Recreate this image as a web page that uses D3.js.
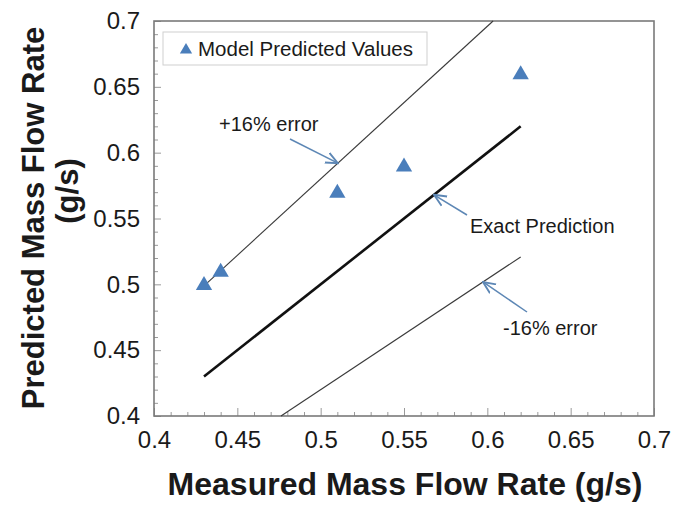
<!DOCTYPE html>
<html>
<head>
<meta charset="utf-8">
<script src="https://cdn.jsdelivr.net/npm/d3@7"></script>
<style>
  html, body { margin: 0; padding: 0; background: #fff; }
  svg { display: block; font-family: "Liberation Sans", Arial, sans-serif; }
</style>
</head>
<body>
<svg id="chart" width="675" height="506"></svg>
<script>
// Measured vs. model-predicted mass flow rate (g/s)
const measured = [0.43, 0.44, 0.51, 0.55, 0.62];
const predicted = [0.50, 0.51, 0.57, 0.59, 0.66];

// Reference lines: exact prediction and ±16% error bands
const exactLine = [[0.43, 0.43], [0.62, 0.62]];
const plusLine = [[0.43, 0.43 * 1.16], [0.7 / 1.16, 0.7]];
const minusLine = [[0.4 / 0.84, 0.4], [0.62, 0.62 * 0.84]];

const xTicks = [0.4, 0.45, 0.5, 0.55, 0.6, 0.65, 0.7];
const yTicks = [0.4, 0.45, 0.5, 0.55, 0.6, 0.65, 0.7];

const svg = d3.select("#chart");
const plot = { left: 154, right: 654, top: 21, bottom: 416 };

const x = d3.scaleLinear().domain([0.4, 0.7]).range([plot.left, plot.right]);
const y = d3.scaleLinear().domain([0.4, 0.7]).range([plot.bottom, plot.top]);

const minor = d3.range(0, 31).map(i => +(0.4 + i * 0.01).toFixed(2));

// Inner minor/major ticks along the bottom
const xAxis = svg.append("g")
  .attr("transform", `translate(0,${plot.bottom})`)
  .call(d3.axisBottom(x).tickValues(minor).tickSizeInner(-4).tickSizeOuter(0).tickFormat(""));
xAxis.select(".domain").remove();
xAxis.selectAll(".tick line").attr("stroke", "#9a9a9a")
  .attr("y2", d => (Math.round(d * 100) % 5 === 0) ? -8 : -4);

const yAxis = svg.append("g")
  .attr("transform", `translate(${plot.left},0)`)
  .call(d3.axisLeft(y).tickValues(minor).tickSizeInner(-4).tickSizeOuter(0).tickFormat(""));
yAxis.select(".domain").remove();
yAxis.selectAll(".tick line").attr("stroke", "#9a9a9a")
  .attr("x2", d => (Math.round(d * 100) % 5 === 0) ? 7 : 4);

// Tick labels
const xLab = svg.append("g")
  .attr("transform", `translate(0,${plot.bottom})`)
  .call(d3.axisBottom(x).tickValues(xTicks).tickSize(0).tickPadding(15).tickFormat(d => String(d)));
xLab.select(".domain").remove();
xLab.selectAll("text").attr("font-size", 24).attr("fill", "#1a1a1a")
  .attr("font-family", "Liberation Sans, Arial, sans-serif");

const yLab = svg.append("g")
  .attr("transform", `translate(${plot.left},0)`)
  .call(d3.axisLeft(y).tickValues(yTicks).tickSize(0).tickPadding(14).tickFormat(d => String(d)));
yLab.select(".domain").remove();
yLab.selectAll("text").attr("font-size", 24).attr("fill", "#1a1a1a")
  .attr("font-family", "Liberation Sans, Arial, sans-serif");

// Plot frame
svg.append("rect")
  .attr("x", plot.left).attr("y", plot.top)
  .attr("width", plot.right - plot.left).attr("height", plot.bottom - plot.top)
  .attr("fill", "none").attr("stroke", "#7a7a7a").attr("stroke-width", 1.6);

const line = d3.line().x(d => x(d[0])).y(d => y(d[1]));

svg.append("path").datum(plusLine).attr("d", line)
  .attr("fill", "none").attr("stroke", "#3a3a3a").attr("stroke-width", 1.1);
svg.append("path").datum(minusLine).attr("d", line)
  .attr("fill", "none").attr("stroke", "#3a3a3a").attr("stroke-width", 1.1);
svg.append("path").datum(exactLine).attr("d", line)
  .attr("fill", "none").attr("stroke", "#111").attr("stroke-width", 2.6);

// Data markers
const tri = d3.symbol().type(d3.symbolTriangle).size(115);
svg.append("g").selectAll("path")
  .data(measured.map((m, i) => [m, predicted[i]]))
  .join("path")
  .attr("d", tri)
  .attr("transform", d => `translate(${x(d[0])},${y(d[1]) + 1})`)
  .attr("fill", "#4a7ebb");

// Annotation arrows
const defs = svg.append("defs");
defs.append("marker")
  .attr("id", "arrow").attr("viewBox", "0 0 10 10")
  .attr("refX", 9).attr("refY", 5)
  .attr("markerWidth", 9).attr("markerHeight", 9)
  .attr("orient", "auto-start-reverse")
  .append("path").attr("d", "M0,1 L9,5 L0,9")
  .attr("fill", "none").attr("stroke", "#5d87b5").attr("stroke-width", 1.4);

function annotate(label, tx, ty, from, toPt) {
  svg.append("line")
    .attr("x1", from[0]).attr("y1", from[1])
    .attr("x2", x(toPt[0])).attr("y2", y(toPt[1]))
    .attr("stroke", "#5d87b5").attr("stroke-width", 1.5)
    .attr("marker-end", "url(#arrow)");
  svg.append("text").attr("x", tx).attr("y", ty)
    .attr("font-size", 20).attr("fill", "#1a1a1a").text(label);
}

annotate("+16% error", 219, 131, [290, 139], [0.5103, 0.5920]);
annotate("Exact Prediction", 470, 233, [467, 215], [0.5680, 0.5680]);
annotate("-16% error", 503, 335, [527, 312], [0.5974, 0.5018]);

// Legend
const lg = svg.append("g");
lg.append("rect").attr("x", 163).attr("y", 32).attr("width", 264).attr("height", 33)
  .attr("fill", "#fff").attr("stroke", "#cfcfcf").attr("stroke-width", 1);
lg.append("path").attr("d", d3.symbol().type(d3.symbolTriangle).size(65))
  .attr("transform", "translate(186,50)").attr("fill", "#4a7ebb");
lg.append("text").attr("x", 198).attr("y", 55.5)
  .attr("font-size", 20.5).attr("fill", "#1a1a1a").text("Model Predicted Values");

// Axis titles
svg.append("text")
  .attr("x", 405).attr("y", 495)
  .attr("text-anchor", "middle").attr("font-size", 32).attr("font-weight", "bold")
  .attr("fill", "#1a1a1a").text("Measured Mass Flow Rate (g/s)");

const yt = svg.append("text")
  .attr("transform", "rotate(-90)")
  .attr("text-anchor", "middle").attr("font-size", 31).attr("font-weight", "bold")
  .attr("fill", "#1a1a1a");
yt.append("tspan").attr("x", -218).attr("y", 44).text("Predicted Mass Flow Rate");
yt.append("tspan").attr("x", -191).attr("y", 78).text("(g/s)");
</script>
</body>
</html>
